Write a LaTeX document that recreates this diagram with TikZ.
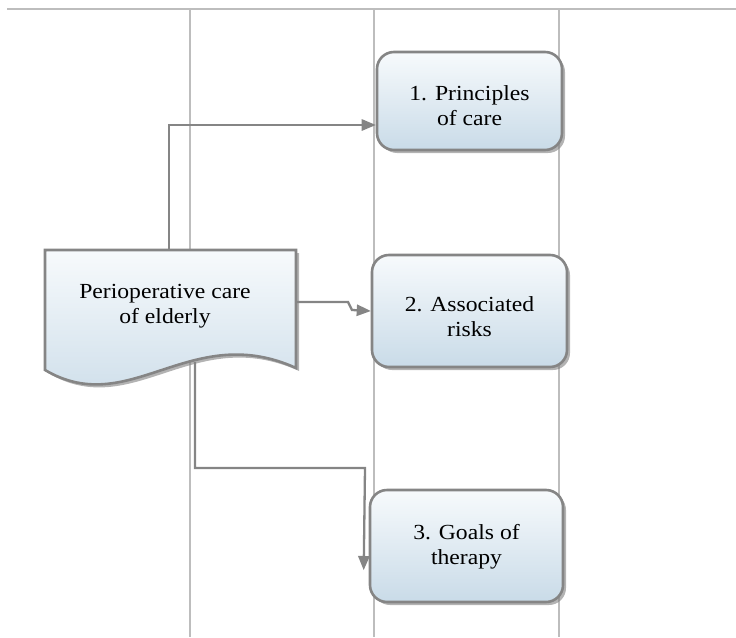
\documentclass[tikz,border=0pt]{standalone}
\usepackage{fontspec}
\setmainfont{Liberation Serif}[FakeStretch=1.1]
\usetikzlibrary{arrows}
\usetikzlibrary{shadows}
\definecolor{lanegray}{HTML}{BDBDBD}
\definecolor{linegray}{HTML}{858585}
\definecolor{boxtop}{HTML}{F7FAFC}
\definecolor{boxbottom}{HTML}{C9DBE8}

\begin{document}
\begin{tikzpicture} [x=1pt, y=-1pt,
  lane/.style={lanegray, line width=2.6pt},
  conn/.style={linegray, line width=2.3pt, ->, >=triangle 45},
  boxfill/.style={draw=linegray, line width=2.6pt, top color=boxtop, bottom color=boxbottom,
    drop shadow={shadow xshift=3pt, shadow yshift=-3pt, fill=gray, opacity=0.6}},
  stepbox/.style={boxfill, rounded corners=17pt, minimum width=#1},
  stepbox/.default=190pt,
  steptext/.style={align=center, font=\fontsize{21.5}{25}\selectfont}]
\useasboundingbox (0,0) rectangle (736,637);
\draw[lane] (7,9)--(736,9);
\foreach \x in {190, 374, 559} {
 \draw[lane] (\x,9) --++(0,628);
}
\coordinate (d1) at (169,250);
\coordinate (d2) at (296,302);
\coordinate (d3) at (195,362);
\coordinate (j2) at (348,302);
\coordinate (j3) at (365,468);
\path[boxfill] (45,250)--(296,250)--(296,368) .. controls (190,320) and (130,420) .. (45,370)--cycle;
\node[steptext] (doc) at (165,306) {Perioperative care\\of elderly};
\node[stepbox=185pt, minimum height=98pt] (box1) at (469.5,101) {};
\node[stepbox=195pt, minimum height=112pt] (box2) at (469.5,311) {};
\node[stepbox=193pt, minimum height=112pt] (box3) at (466.5,546) {};
\node[steptext] (t1) at ([yshift=-5pt]box1.center) {1. Principles\\of care};
\node[steptext] (t2) at ([yshift=-6pt]box2.center) {2. Associated\\risks};
\node[steptext] (t3) at ([yshift=-1pt]box3.center) {3. Goals of\\therapy};
\draw[conn] (d1) |- ([yshift=-24pt]box1.west);
\draw[conn] (d2) -- (j2) -- ++(4,8) -- (box2.west);
\draw[conn] (d3) |- (j3) -- ([xshift=-5pt,yshift=-24pt]box3.west);
\end{tikzpicture}
\end{document}
